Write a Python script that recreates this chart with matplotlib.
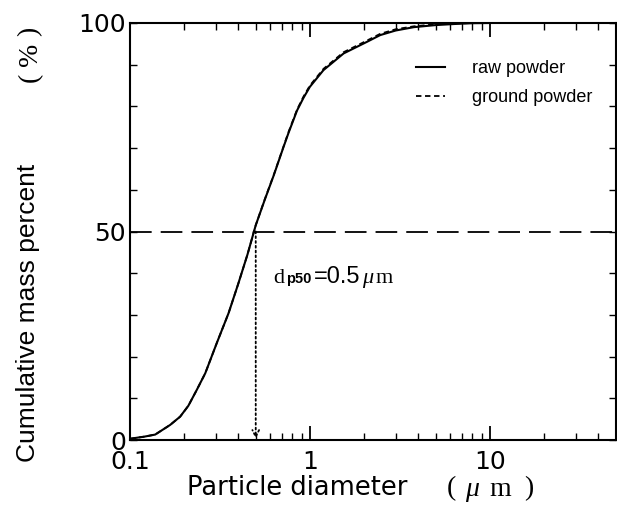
import matplotlib
matplotlib.use("Agg")
import matplotlib.pyplot as plt
from matplotlib.ticker import FixedLocator, NullFormatter, LogLocator
from matplotlib.offsetbox import TextArea, HPacker, AnnotationBbox

# Data
diameter = [0.1, 0.12, 0.138, 0.167, 0.19, 0.211, 0.235, 0.262, 0.304, 0.353,
            0.40, 0.45, 0.5, 0.56, 0.63, 0.71, 0.76, 0.848, 0.92, 1.0,
            1.19, 1.54, 2.08, 2.46, 3.0, 3.78, 5.0, 6.6, 8.0, 10.0]
raw_powder = [0.3, 0.8, 1.3, 3.6, 5.6, 8.2, 12.0, 16.0, 23.3, 30.4,
              37.5, 44.5, 51.5, 57.5, 63.5, 70.0, 73.6, 79.0, 82.0, 84.7,
              88.7, 92.7, 95.5, 97.1, 98.2, 99.0, 99.5, 99.8, 99.95, 100.0]
ground_powder = [0.3, 0.8, 1.3, 3.6, 5.6, 8.2, 12.0, 16.0, 23.3, 30.4,
                 37.5, 44.5, 51.5, 57.6, 63.6, 70.1, 73.8, 79.2, 82.3, 85.0,
                 89.0, 93.0, 95.8, 97.4, 98.5, 99.2, 99.7, 99.9, 100.0, 100.0]
d50 = 0.5
xticks = [0.1, 1, 10]
xticklabels = ["0.1", "1", "10"]
yticks = [0, 50, 100]
yticklabels = ["0", "50", "100"]

SANS = ["DejaVu Sans", "Noto Sans CJK JP"]
LSANS = ["Liberation Sans", "Noto Sans CJK JP", "DejaVu Sans"]
SERIF = ["Liberation Serif", "Noto Sans CJK JP", "DejaVu Serif"]
plt.rcParams["font.family"] = SANS

W, H = 617, 514
fig = plt.figure(figsize=(W/100, H/100), dpi=100)
ax = fig.add_axes([130/W, 1-440/H, (615.5-130)/W, (440-23)/H])

def fx(px):
    return px / W

def fy(py):
    return 1 - py / H

ax.plot(diameter, raw_powder, color="black", lw=1.5, ls="-", label="raw powder")
ax.plot(diameter, ground_powder, color="black", lw=1.3, ls=(0, (3, 2)), label="ground powder")

ax.axhline(50, color="black", lw=1.3, ls=(0, (12, 5)))
ax.annotate("", xy=(d50, 0.3), xytext=(d50, 50),
            arrowprops=dict(arrowstyle="->", ls=":", lw=1.3, color="black",
                            shrinkA=0, shrinkB=0, mutation_scale=12))

ax.set_xscale("log")
ax.set_xlim(0.1, 50)
ax.set_ylim(0, 100)
ax.set_xticks(xticks)
ax.set_xticklabels(xticklabels)
ax.xaxis.set_minor_locator(LogLocator(base=10, subs=range(2, 10)))
ax.xaxis.set_minor_formatter(NullFormatter())
ax.set_yticks(yticks)
ax.set_yticklabels(yticklabels)
ax.yaxis.set_minor_locator(FixedLocator(range(10, 100, 10)))

ax.tick_params(which="both", direction="in", top=True, right=True, color="black")
ax.tick_params(which="major", axis="x", length=10, width=1.3, labelsize=18, pad=7)
ax.tick_params(which="minor", axis="x", length=5, width=1.0)
ax.tick_params(which="major", axis="y", length=5, width=1.0, labelsize=18, pad=3)
ax.tick_params(which="minor", axis="y", length=5, width=1.0)
for s in ax.spines.values():
    s.set_linewidth(1.5)

# x label: "Particle diameter （μ m）"
ax.set_xlabel("Particle diameter", fontsize=18.5, ha="left", va="center")
ax.xaxis.set_label_coords((187-130)/485.5, (440-488)/417)
for ch, cx, st in [("(", 451, "normal"), ("μ", 472, "italic"),
                   ("m", 500, "normal"), (")", 529, "normal")]:
    fig.text(fx(cx), fy(489), ch, family=SERIF, fontsize=20, style=st,
             ha="center", va="center")

# y label: "Cumulative mass percent （%）"
ax.set_ylabel("Cumulative mass percent", family=LSANS, fontsize=19, va="center")
ax.yaxis.set_label_coords((28-130)/485.5, (440-313)/417)
for ch, cy in [("(", 77), ("%", 54), (")", 31)]:
    fig.text(fx(30), fy(cy), ch, family=SERIF, fontsize=20, rotation=90,
             ha="center", va="center")

leg = ax.legend(loc="upper right", bbox_to_anchor=(0.985, 0.95), frameon=False,
                prop=dict(family=LSANS, size=13), handlelength=1.6,
                handletextpad=1.5, labelspacing=0.65)

# annotation d_p50 = 0.5 μm
parts = [
    TextArea("d", textprops=dict(family=SERIF, fontsize=16)),
    TextArea("p50", textprops=dict(family=LSANS, fontsize=10.5, fontweight="bold")),
    TextArea("=0.5", textprops=dict(family=LSANS, fontsize=17)),
    TextArea("μ", textprops=dict(family=SERIF, fontsize=16, style="italic")),
    TextArea("m", textprops=dict(family=SERIF, fontsize=16)),
]
box = HPacker(children=parts, align="baseline", pad=0, sep=1.5)
ab = AnnotationBbox(box, (0.625, 39), xycoords="data", box_alignment=(0, 0.5),
                    frameon=False)
ax.add_artist(ab)

fig.savefig("out.png", dpi=100)
